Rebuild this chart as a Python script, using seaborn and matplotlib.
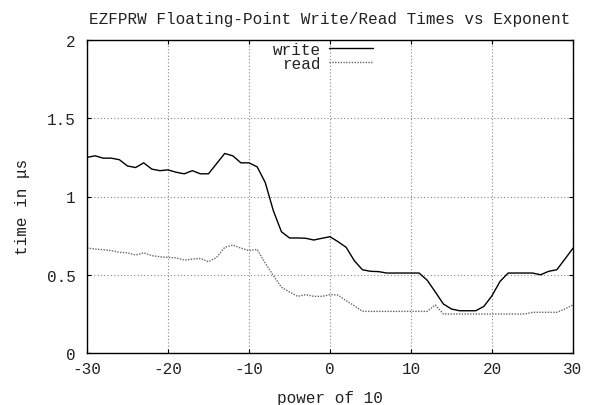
import numpy as np
import pandas as pd
import seaborn as sns
import matplotlib
matplotlib.use("Agg")
import matplotlib.pyplot as plt

# power of 10 on the x axis
exponent = list(range(-30, 31))

write_us = [1.25, 1.26, 1.245, 1.245, 1.235, 1.195, 1.185, 1.215, 1.175, 1.165,
            1.17, 1.155, 1.145, 1.165, 1.145, 1.145, 1.21, 1.275, 1.26, 1.215,
            1.215, 1.19, 1.09, 0.91, 0.775, 0.735, 0.735, 0.733, 0.722, 0.733,
            0.743, 0.711, 0.675, 0.59, 0.532, 0.522, 0.52, 0.511, 0.511, 0.511,
            0.511, 0.511, 0.465, 0.39, 0.313, 0.281, 0.27, 0.27, 0.27, 0.298,
            0.366, 0.458, 0.511, 0.511, 0.511, 0.511, 0.5, 0.522, 0.532, 0.6,
            0.67]

read_us = [0.671, 0.664, 0.66, 0.654, 0.643, 0.64, 0.626, 0.64, 0.622, 0.615,
           0.611, 0.608, 0.594, 0.6, 0.604, 0.583, 0.611, 0.675, 0.69, 0.67,
           0.654, 0.662, 0.575, 0.495, 0.42, 0.39, 0.362, 0.373, 0.362, 0.362,
           0.373, 0.37, 0.334, 0.302, 0.266, 0.266, 0.266, 0.266, 0.266, 0.266,
           0.266, 0.266, 0.266, 0.307, 0.249, 0.249, 0.249, 0.249, 0.249, 0.249,
           0.249, 0.249, 0.249, 0.249, 0.249, 0.26, 0.26, 0.26, 0.26, 0.281,
           0.307]

xticks = [-30, -20, -10, 0, 10, 20, 30]
xtick_labels = ["-30", "-20", "-10", "0", "10", "20", "30"]
yticks = [0, 0.5, 1, 1.5, 2]
ytick_labels = ["0", "0.5", "1", "1.5", "2"]

df = pd.DataFrame({"exp": exponent, "write": write_us, "read": read_us})

sns.set_style("ticks")
plt.rcParams["font.family"] = ["Liberation Mono", "DejaVu Sans Mono"]
fs = 11.5
tc = "#222222"

fig = plt.figure(figsize=(5.94, 4.06), dpi=100)
ax = fig.add_axes([87 / 594, 1 - 354 / 406, (573 - 87) / 594, (354 - 41) / 406])

sns.lineplot(data=df, x="exp", y="write", ax=ax, color="black", lw=1.0,
             label="write")
sns.lineplot(data=df, x="exp", y="read", ax=ax, color="#666666", lw=1.0,
             linestyle=(0, (1, 1)), label="read")

ax.set_xlim(-30, 30)
ax.set_ylim(0, 2)
ax.set_xticks(xticks)
ax.set_xticklabels(xtick_labels, fontsize=fs, color=tc)
ax.set_yticks(yticks)
ax.set_yticklabels(ytick_labels, fontsize=fs, color=tc)
ax.tick_params(direction="in", length=3, width=0.8, top=True, right=True,
               color="black")
ax.tick_params(axis="x", pad=6)
ax.tick_params(axis="y", pad=8)
ax.grid(True, color="#888888", linestyle=(0, (1, 2)), lw=0.8)
for s in ax.spines.values():
    s.set_color("black")
    s.set_linewidth(1.0)

ax.set_xlabel("power of 10", fontsize=fs, labelpad=10, color=tc)
ax.set_ylabel("time in μs", fontsize=fs, color=tc)
ax.yaxis.set_label_coords(-0.117, 0.47)
ax.set_title("EZFPRW Floating-Point Write/Read Times vs Exponent",
             fontsize=fs, pad=12, color=tc)

leg = ax.legend(loc="upper right", bbox_to_anchor=((375 - 87) / 486, 1.0),
                frameon=False, markerfirst=False, fontsize=fs,
                handlelength=2.8, handletextpad=0.5, labelspacing=-0.05,
                borderpad=0.1, borderaxespad=0)
for t in leg.get_texts():
    t.set_color(tc)

fig.savefig("out.png", dpi=100)
